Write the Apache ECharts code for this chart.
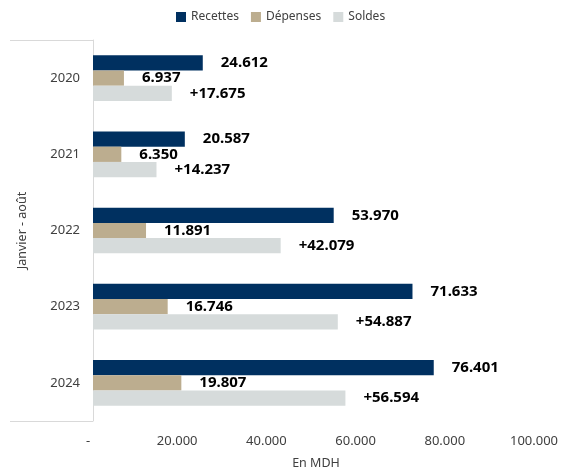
<!DOCTYPE html>
<html><head><meta charset="utf-8">
<script src="https://cdn.jsdelivr.net/npm/echarts@6/dist/echarts.min.js"></script>
<style>html,body{margin:0;padding:0;background:#fff}#c{width:571px;height:475px}</style>
</head><body><div id="c"></div>
<script>
const categories = ["2020", "2021", "2022", "2023", "2024"];
const recettes = [24612, 20587, 53970, 71633, 76401];
const depenses = [6937, 6350, 11891, 16746, 19807];
const soldes = [17675, 14237, 42079, 54887, 56594];
const xTicks = [0, 20000, 40000, 60000, 80000, 100000];
const groupLabel = ["Janvier - août"];

const fmt = v => v === 0 ? "-" : v.toLocaleString("de-DE");
const font = "Noto Sans";
const labelStyle = (prefix) => ({
  show: true, position: "right", distance: 18,
  fontFamily: font, fontWeight: "bold", fontSize: 15, color: "#000",
  formatter: p => prefix + fmt(p.value)
});

const chart = echarts.init(document.getElementById("c"));
chart.setOption({
  animation: false,
  textStyle: { fontFamily: font },
  legend: {
    top: 6, left: 171, itemWidth: 10, itemHeight: 10, itemGap: 12,
    icon: "rect",
    textStyle: { fontFamily: font, fontSize: 12, color: "#404040" },
    data: ["Recettes", "Dépenses", "Soldes"]
  },
  grid: { left: 93, right: 32, top: 40, bottom: 45, containLabel: false },
  xAxis: {
    type: "value", min: xTicks[0], max: xTicks[xTicks.length - 1], interval: 20000,
    axisLine: { show: false }, axisTick: { show: false }, splitLine: { show: false },
    axisLabel: { fontFamily: font, fontSize: 13, color: "#404040", margin: 14, padding: [0, 10, 0, 0], formatter: fmt },
    name: "En MDH", nameLocation: "middle", nameGap: 36,
    nameTextStyle: { fontFamily: font, fontSize: 12.5, color: "#404040" }
  },
  yAxis: [{
    type: "category", data: categories, inverse: true,
    axisLine: { show: true, lineStyle: { color: "#d9d9d9", width: 1 } },
    axisTick: { show: false },
    axisLabel: { fontFamily: font, fontSize: 13, color: "#404040", margin: 13 }
  }, {
    type: "category", data: groupLabel, position: "left",
    axisLine: { show: false },
    axisTick: { show: true, length: 83, lineStyle: { color: "#d9d9d9", width: 1 } },
    axisLabel: { show: false },
    name: groupLabel[0], nameLocation: "middle", nameGap: 64, nameRotate: 90,
    nameTextStyle: { fontFamily: font, fontSize: 12.5, color: "#404040" }
  }],
  series: [
    { name: "Recettes", type: "bar", data: recettes, yAxisIndex: 0, barGap: "0%", barCategoryGap: "40%",
      itemStyle: { color: "#003060" }, label: labelStyle("") },
    { name: "Dépenses", type: "bar", data: depenses, yAxisIndex: 0,
      itemStyle: { color: "#bcad8f" }, label: labelStyle("") },
    { name: "Soldes", type: "bar", data: soldes, yAxisIndex: 0,
      itemStyle: { color: "#d6dbdb" }, label: labelStyle("+") }
  ]
});
</script></body></html>
